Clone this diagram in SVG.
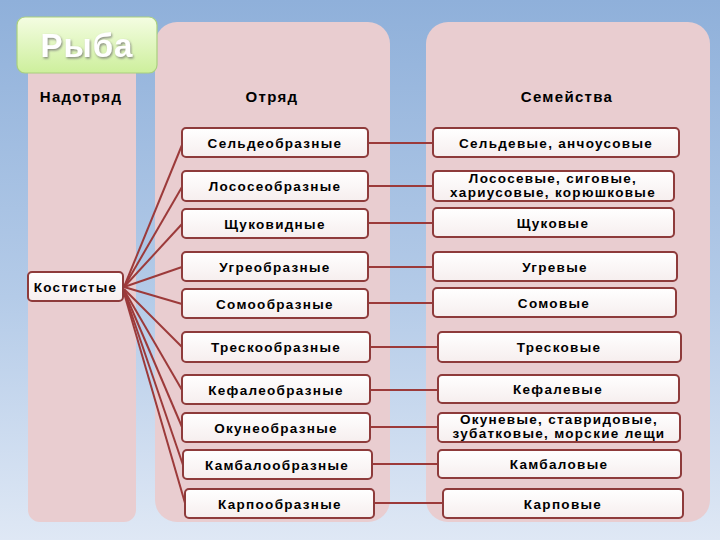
<svg xmlns="http://www.w3.org/2000/svg" width="720" height="540" viewBox="0 0 720 540">
<defs>
<linearGradient id="bg" x1="0" y1="0" x2="0" y2="1">
<stop offset="0" stop-color="#8fb0da"/>
<stop offset="0.55" stop-color="#b4cbe8"/>
<stop offset="1" stop-color="#dfe8f5"/>
</linearGradient>
<linearGradient id="title" x1="0" y1="0" x2="0" y2="1">
<stop offset="0" stop-color="#f4fde2"/>
<stop offset="1" stop-color="#cdef9c"/>
</linearGradient>
<linearGradient id="box" x1="0" y1="0" x2="0" y2="1">
<stop offset="0" stop-color="#ffffff"/>
<stop offset="1" stop-color="#f6eeee"/>
</linearGradient>
<filter id="ts" x="-10%" y="-10%" width="130%" height="140%">
<feDropShadow dx="1" dy="1.5" stdDeviation="1" flood-color="#707070" flood-opacity="0.8"/>
</filter>
</defs>
<style>
.panel{fill:#e9cdd0}
.box{fill:url(#box);stroke:#8e3b3b;stroke-width:2}
.t{font-family:"Liberation Sans",Arial,sans-serif;font-weight:bold;font-size:13.5px;fill:#000;text-anchor:middle;letter-spacing:1.3px}
.h{font-family:"Liberation Sans",Arial,sans-serif;font-weight:bold;font-size:15px;fill:#000;text-anchor:middle;letter-spacing:1.3px}
.c{stroke:#9c3a3a;stroke-width:2;fill:none}
</style>
<rect width="720" height="540" fill="url(#bg)"/>
<g id="panels">
<rect class="panel" x="28" y="60" width="108" height="462" rx="12"/>
<rect class="panel" x="155" y="22" width="235" height="500" rx="22"/>
<rect class="panel" x="426" y="22" width="284" height="500" rx="22"/>
</g>
<g id="title-node">
<rect x="17" y="17" width="140" height="56" rx="8" fill="url(#title)" stroke="#a9cf7f" stroke-width="1.2"/>
<text x="87" y="57" font-family="Liberation Sans,Arial,sans-serif" font-weight="bold" font-size="33" fill="#ffffff" text-anchor="middle" letter-spacing="1" filter="url(#ts)">Рыба</text>
</g>
<g id="headers">
<text class="h" x="81" y="102">Надотряд</text>
<text class="h" x="272" y="102">Отряд</text>
<text class="h" x="567" y="102">Семейства</text>
</g>
<g id="connectors">
<line class="c" x1="124" y1="287" x2="182" y2="145"/>
<line class="c" x1="124" y1="287" x2="182" y2="187"/>
<line class="c" x1="124" y1="287" x2="182" y2="224"/>
<line class="c" x1="124" y1="287" x2="182" y2="267"/>
<line class="c" x1="124" y1="287" x2="182" y2="304"/>
<line class="c" x1="124" y1="289" x2="182" y2="347"/>
<line class="c" x1="124" y1="290" x2="182" y2="390"/>
<line class="c" x1="124" y1="291" x2="182" y2="427"/>
<line class="c" x1="124" y1="292" x2="183" y2="465"/>
<line class="c" x1="124" y1="293" x2="185" y2="503"/>
<line class="c" x1="368" y1="143" x2="433" y2="143"/>
<line class="c" x1="368" y1="186" x2="433" y2="186"/>
<line class="c" x1="368" y1="223" x2="433" y2="223"/>
<line class="c" x1="368" y1="267" x2="433" y2="267"/>
<line class="c" x1="368" y1="303" x2="433" y2="303"/>
<line class="c" x1="370" y1="347" x2="438" y2="347"/>
<line class="c" x1="370" y1="390" x2="438" y2="390"/>
<line class="c" x1="370" y1="427" x2="438" y2="427"/>
<line class="c" x1="372" y1="464" x2="438" y2="464"/>
<line class="c" x1="374" y1="503" x2="443" y2="503"/>
</g>
<g id="kostistye"><rect class="box" x="28" y="272" width="95" height="29" rx="4"/><text class="t" x="75.5" y="292" letter-spacing="0.6">Костистые</text></g>
<g id="o1"><rect class="box" x="182" y="128" width="186" height="29" rx="4"/><text class="t" x="275" y="148">Сельдеобразные</text></g>
<g id="o2"><rect class="box" x="182" y="171" width="186" height="30" rx="4"/><text class="t" x="275" y="191">Лососеобразные</text></g>
<g id="o3"><rect class="box" x="182" y="209" width="186" height="29" rx="4"/><text class="t" x="275" y="229">Щуковидные</text></g>
<g id="o4"><rect class="box" x="182" y="252" width="186" height="29" rx="4"/><text class="t" x="275" y="272">Угреобразные</text></g>
<g id="o5"><rect class="box" x="182" y="289" width="186" height="29" rx="4"/><text class="t" x="275" y="309">Сомообразные</text></g>
<g id="o6"><rect class="box" x="182" y="332" width="188" height="30" rx="4"/><text class="t" x="276" y="352">Трескообразные</text></g>
<g id="o7"><rect class="box" x="182" y="375" width="188" height="29" rx="4"/><text class="t" x="276" y="395">Кефалеобразные</text></g>
<g id="o8"><rect class="box" x="182" y="413" width="188" height="29" rx="4"/><text class="t" x="276" y="433">Окунеобразные</text></g>
<g id="o9"><rect class="box" x="183" y="450" width="189" height="29" rx="4"/><text class="t" x="277" y="470">Камбалообразные</text></g>
<g id="o10"><rect class="box" x="185" y="489" width="189" height="29" rx="4"/><text class="t" x="280" y="509">Карпообразные</text></g>
<g id="f1"><rect class="box" x="433" y="128" width="246" height="29" rx="4"/><text class="t" x="556" y="148">Сельдевые, анчоусовые</text></g>
<g id="f2"><rect class="box" x="433" y="171" width="241" height="30" rx="4"/><text class="t" x="553" y="183" letter-spacing="0.9">Лососевые, сиговые,</text><text class="t" x="553" y="197" letter-spacing="0.9">хариусовые, корюшковые</text></g>
<g id="f3"><rect class="box" x="433" y="208" width="241" height="29" rx="4"/><text class="t" x="553" y="228">Щуковые</text></g>
<g id="f4"><rect class="box" x="433" y="252" width="244" height="29" rx="4"/><text class="t" x="555" y="272">Угревые</text></g>
<g id="f5"><rect class="box" x="433" y="288" width="243" height="29" rx="4"/><text class="t" x="554" y="308">Сомовые</text></g>
<g id="f6"><rect class="box" x="438" y="332" width="243" height="30" rx="4"/><text class="t" x="559" y="352">Тресковые</text></g>
<g id="f7"><rect class="box" x="438" y="375" width="241" height="28" rx="4"/><text class="t" x="558" y="394">Кефалевые</text></g>
<g id="f8"><rect class="box" x="438" y="413" width="242" height="29" rx="4"/><text class="t" x="559" y="424" letter-spacing="0.9">Окуневые, ставридовые,</text><text class="t" x="559" y="438" letter-spacing="0.9">зубатковые, морские лещи</text></g>
<g id="f9"><rect class="box" x="438" y="450" width="243" height="28" rx="4"/><text class="t" x="559" y="469">Камбаловые</text></g>
<g id="f10"><rect class="box" x="443" y="489" width="240" height="29" rx="4"/><text class="t" x="563" y="509">Карповые</text></g>
</svg>
